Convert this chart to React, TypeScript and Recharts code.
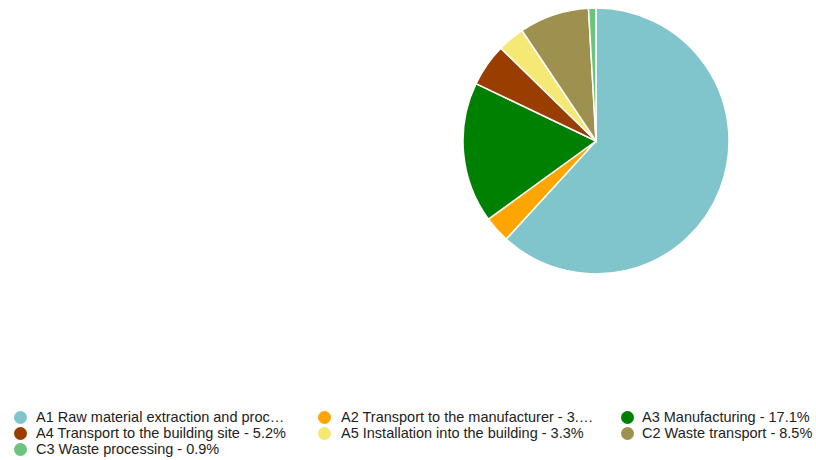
import React from "react";
import { PieChart, Pie, Cell, Legend } from "recharts";

const names = [
  "A1 Raw material extraction and processing",
  "A2 Transport to the manufacturer",
  "A3 Manufacturing",
  "A4 Transport to the building site",
  "A5 Installation into the building",
  "C2 Waste transport",
  "C3 Waste processing",
];
const values = [61.8, 3.2, 17.1, 5.2, 3.3, 8.5, 0.9];
const colors = ["#80c4cc", "#ffa500", "#008000", "#993d00", "#f5e874", "#9e914f", "#6cc47c"];

const data = names.map((n, i) => ({ name: n, value: values[i] }));

const colCircleX = [20, 324, 627];
const colTextX = [36, 341, 642];
const rowY = [409, 425, 441];
const legendTop = 400;

const renderLegend = () => (
  <div style={{ position: "relative", width: 816, height: 60 }}>
    {data.map((d, i) => {
      const col = i % 3;
      const row = Math.floor(i / 3);
      return (
        <div key={d.name}>
          <div
            style={{
              position: "absolute",
              left: colCircleX[col] - 6.5,
              top: rowY[row] - legendTop + 1.5,
              width: 13,
              height: 13,
              borderRadius: "50%",
              background: colors[i],
            }}
          />
          <div
            style={{
              position: "absolute",
              left: colTextX[col],
              top: rowY[row] - legendTop,
              width: col === 2 ? 174 : 254,
              whiteSpace: "nowrap",
              overflow: "hidden",
              textOverflow: "ellipsis",
              fontFamily: "Arial, 'Liberation Sans', sans-serif",
              fontSize: 14.5,
              lineHeight: "16px",
              color: "#222222",
            }}
          >
            {`${d.name} - ${d.value}%`}
          </div>
        </div>
      );
    })}
  </div>
);

export default function App() {
  return (
    <div style={{ width: 816, height: 460, overflow: "hidden" }}>
      <style>{`body { margin: 0; }`}</style>
      <PieChart width={816} height={460} margin={{ top: 0, right: 0, bottom: 0, left: 0 }}>
        <Pie
          data={data}
          dataKey="value"
          nameKey="name"
          cx={596}
          cy={141}
          outerRadius={133}
          startAngle={90}
          endAngle={-270}
          stroke="#ffffff"
          strokeWidth={1.5}
          isAnimationActive={false}
        >
          {data.map((d, i) => (
            <Cell key={d.name} fill={colors[i]} />
          ))}
        </Pie>
        <Legend
          content={renderLegend}
          wrapperStyle={{ position: "absolute", left: 0, top: legendTop, width: 816, height: 60 }}
        />
      </PieChart>
    </div>
  );
}
